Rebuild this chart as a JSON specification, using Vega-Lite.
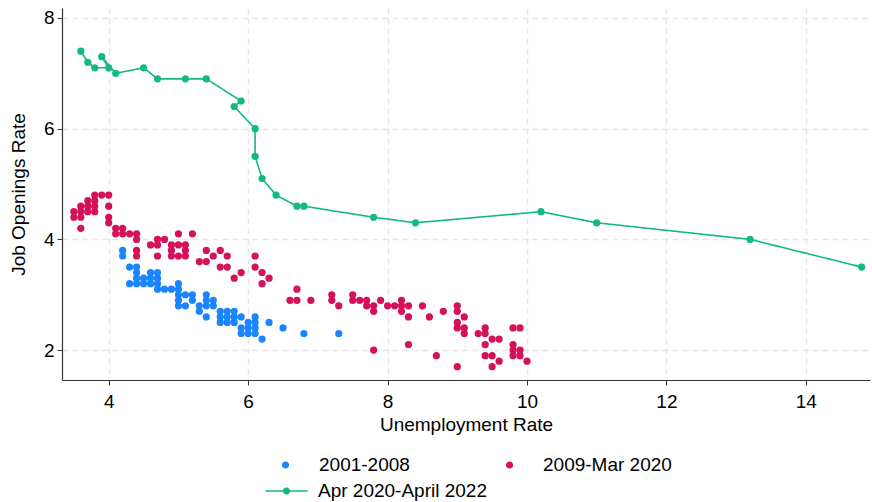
{
  "$schema": "https://vega.github.io/schema/vega-lite/v6.json",
  "width": 808,
  "height": 372,
  "autosize": {"type": "none"},
  "padding": {"left": 62, "top": 8, "right": 2, "bottom": 122},
  "config": {
    "font": "Liberation Sans",
    "view": {"stroke": null},
    "axis": {
      "grid": true,
      "gridDash": [6, 4],
      "gridColor": "#e6e6e6",
      "gridWidth": 1.5,
      "domainColor": "#333333",
      "domainWidth": 1.2,
      "tickColor": "#333333",
      "tickSize": 5,
      "labelFontSize": 19,
      "titleFontSize": 19,
      "titleFontWeight": "normal",
      "labelColor": "#000000",
      "titleColor": "#000000",
      "labelFlush": false
    }
  },
  "datasets": {
    "pts": [
      {"u":4.2,"j":3.8,"s":"2001-2008"},{"u":4.2,"j":3.7,"s":"2001-2008"},{"u":4.3,"j":3.5,"s":"2001-2008"},{"u":4.4,"j":3.5,"s":"2001-2008"},
      {"u":4.4,"j":3.4,"s":"2001-2008"},{"u":4.6,"j":3.4,"s":"2001-2008"},{"u":4.7,"j":3.4,"s":"2001-2008"},
      {"u":4.4,"j":3.3,"s":"2001-2008"},{"u":4.5,"j":3.3,"s":"2001-2008"},{"u":4.6,"j":3.3,"s":"2001-2008"},{"u":4.7,"j":3.3,"s":"2001-2008"},
      {"u":4.3,"j":3.2,"s":"2001-2008"},{"u":4.4,"j":3.2,"s":"2001-2008"},{"u":4.5,"j":3.2,"s":"2001-2008"},{"u":4.6,"j":3.2,"s":"2001-2008"},{"u":4.7,"j":3.2,"s":"2001-2008"},
      {"u":4.7,"j":3.1,"s":"2001-2008"},{"u":4.8,"j":3.1,"s":"2001-2008"},{"u":4.9,"j":3.1,"s":"2001-2008"},{"u":5.0,"j":3.1,"s":"2001-2008"},{"u":5.0,"j":3.2,"s":"2001-2008"},
      {"u":5.0,"j":3.0,"s":"2001-2008"},{"u":5.1,"j":3.0,"s":"2001-2008"},{"u":5.2,"j":3.0,"s":"2001-2008"},{"u":5.0,"j":2.9,"s":"2001-2008"},{"u":5.2,"j":2.9,"s":"2001-2008"},
      {"u":5.0,"j":2.8,"s":"2001-2008"},{"u":5.1,"j":2.8,"s":"2001-2008"},{"u":5.3,"j":2.8,"s":"2001-2008"},{"u":5.3,"j":2.7,"s":"2001-2008"},
      {"u":5.4,"j":3.0,"s":"2001-2008"},{"u":5.4,"j":2.9,"s":"2001-2008"},{"u":5.4,"j":2.8,"s":"2001-2008"},{"u":5.5,"j":2.9,"s":"2001-2008"},{"u":5.5,"j":2.8,"s":"2001-2008"},{"u":5.4,"j":2.6,"s":"2001-2008"},
      {"u":5.6,"j":2.7,"s":"2001-2008"},{"u":5.7,"j":2.7,"s":"2001-2008"},{"u":5.8,"j":2.7,"s":"2001-2008"},{"u":5.6,"j":2.6,"s":"2001-2008"},{"u":5.7,"j":2.6,"s":"2001-2008"},{"u":5.8,"j":2.6,"s":"2001-2008"},{"u":5.9,"j":2.6,"s":"2001-2008"},
      {"u":5.6,"j":2.5,"s":"2001-2008"},{"u":5.7,"j":2.5,"s":"2001-2008"},{"u":5.8,"j":2.5,"s":"2001-2008"},{"u":5.9,"j":2.4,"s":"2001-2008"},{"u":5.9,"j":2.3,"s":"2001-2008"},
      {"u":6.0,"j":2.5,"s":"2001-2008"},{"u":6.0,"j":2.4,"s":"2001-2008"},{"u":6.0,"j":2.3,"s":"2001-2008"},{"u":6.1,"j":2.6,"s":"2001-2008"},{"u":6.1,"j":2.5,"s":"2001-2008"},{"u":6.1,"j":2.4,"s":"2001-2008"},{"u":6.1,"j":2.3,"s":"2001-2008"},
      {"u":6.2,"j":2.2,"s":"2001-2008"},{"u":6.3,"j":2.5,"s":"2001-2008"},{"u":6.5,"j":2.4,"s":"2001-2008"},{"u":6.8,"j":2.3,"s":"2001-2008"},{"u":7.3,"j":2.3,"s":"2001-2008"},

      {"u":3.8,"j":4.8,"s":"2009-Mar 2020"},{"u":3.9,"j":4.8,"s":"2009-Mar 2020"},{"u":4.0,"j":4.8,"s":"2009-Mar 2020"},{"u":3.7,"j":4.7,"s":"2009-Mar 2020"},{"u":3.8,"j":4.7,"s":"2009-Mar 2020"},
      {"u":3.6,"j":4.6,"s":"2009-Mar 2020"},{"u":3.7,"j":4.6,"s":"2009-Mar 2020"},{"u":3.8,"j":4.6,"s":"2009-Mar 2020"},{"u":4.0,"j":4.6,"s":"2009-Mar 2020"},
      {"u":3.5,"j":4.5,"s":"2009-Mar 2020"},{"u":3.6,"j":4.5,"s":"2009-Mar 2020"},{"u":3.7,"j":4.5,"s":"2009-Mar 2020"},{"u":3.8,"j":4.5,"s":"2009-Mar 2020"},
      {"u":3.5,"j":4.4,"s":"2009-Mar 2020"},{"u":3.6,"j":4.4,"s":"2009-Mar 2020"},{"u":4.0,"j":4.4,"s":"2009-Mar 2020"},{"u":4.0,"j":4.3,"s":"2009-Mar 2020"},{"u":3.6,"j":4.2,"s":"2009-Mar 2020"},
      {"u":4.1,"j":4.2,"s":"2009-Mar 2020"},{"u":4.2,"j":4.2,"s":"2009-Mar 2020"},{"u":4.1,"j":4.1,"s":"2009-Mar 2020"},{"u":4.2,"j":4.1,"s":"2009-Mar 2020"},{"u":4.3,"j":4.1,"s":"2009-Mar 2020"},{"u":4.4,"j":4.1,"s":"2009-Mar 2020"},{"u":4.4,"j":4.0,"s":"2009-Mar 2020"},
      {"u":4.4,"j":3.8,"s":"2009-Mar 2020"},{"u":4.4,"j":3.7,"s":"2009-Mar 2020"},{"u":4.6,"j":3.9,"s":"2009-Mar 2020"},{"u":4.7,"j":3.9,"s":"2009-Mar 2020"},{"u":4.7,"j":4.0,"s":"2009-Mar 2020"},{"u":4.8,"j":4.0,"s":"2009-Mar 2020"},{"u":4.7,"j":3.7,"s":"2009-Mar 2020"},
      {"u":4.9,"j":3.9,"s":"2009-Mar 2020"},{"u":5.0,"j":3.9,"s":"2009-Mar 2020"},{"u":5.1,"j":3.9,"s":"2009-Mar 2020"},{"u":4.9,"j":3.8,"s":"2009-Mar 2020"},{"u":5.1,"j":3.8,"s":"2009-Mar 2020"},
      {"u":4.9,"j":3.7,"s":"2009-Mar 2020"},{"u":5.0,"j":3.7,"s":"2009-Mar 2020"},{"u":5.1,"j":3.7,"s":"2009-Mar 2020"},{"u":5.0,"j":4.1,"s":"2009-Mar 2020"},{"u":5.2,"j":4.1,"s":"2009-Mar 2020"},
      {"u":5.4,"j":3.8,"s":"2009-Mar 2020"},{"u":5.6,"j":3.8,"s":"2009-Mar 2020"},{"u":5.5,"j":3.7,"s":"2009-Mar 2020"},{"u":5.7,"j":3.7,"s":"2009-Mar 2020"},{"u":5.3,"j":3.6,"s":"2009-Mar 2020"},{"u":5.4,"j":3.6,"s":"2009-Mar 2020"},
      {"u":5.6,"j":3.5,"s":"2009-Mar 2020"},{"u":5.7,"j":3.5,"s":"2009-Mar 2020"},{"u":5.8,"j":3.3,"s":"2009-Mar 2020"},{"u":5.9,"j":3.4,"s":"2009-Mar 2020"},
      {"u":6.1,"j":3.7,"s":"2009-Mar 2020"},{"u":6.1,"j":3.5,"s":"2009-Mar 2020"},{"u":6.2,"j":3.4,"s":"2009-Mar 2020"},{"u":6.3,"j":3.3,"s":"2009-Mar 2020"},{"u":6.2,"j":3.2,"s":"2009-Mar 2020"},
      {"u":6.6,"j":2.9,"s":"2009-Mar 2020"},{"u":6.7,"j":2.9,"s":"2009-Mar 2020"},{"u":6.7,"j":3.1,"s":"2009-Mar 2020"},{"u":6.9,"j":2.9,"s":"2009-Mar 2020"},
      {"u":7.2,"j":3.0,"s":"2009-Mar 2020"},{"u":7.2,"j":2.9,"s":"2009-Mar 2020"},{"u":7.3,"j":2.8,"s":"2009-Mar 2020"},
      {"u":7.5,"j":3.0,"s":"2009-Mar 2020"},{"u":7.5,"j":2.9,"s":"2009-Mar 2020"},{"u":7.6,"j":2.9,"s":"2009-Mar 2020"},{"u":7.7,"j":2.9,"s":"2009-Mar 2020"},{"u":7.7,"j":2.8,"s":"2009-Mar 2020"},
      {"u":7.8,"j":2.8,"s":"2009-Mar 2020"},{"u":7.8,"j":2.7,"s":"2009-Mar 2020"},{"u":7.9,"j":2.9,"s":"2009-Mar 2020"},
      {"u":8.0,"j":2.8,"s":"2009-Mar 2020"},{"u":8.1,"j":2.8,"s":"2009-Mar 2020"},{"u":8.2,"j":2.9,"s":"2009-Mar 2020"},{"u":8.2,"j":2.8,"s":"2009-Mar 2020"},{"u":8.2,"j":2.7,"s":"2009-Mar 2020"},
      {"u":8.3,"j":2.8,"s":"2009-Mar 2020"},{"u":8.3,"j":2.6,"s":"2009-Mar 2020"},{"u":8.5,"j":2.8,"s":"2009-Mar 2020"},{"u":8.6,"j":2.6,"s":"2009-Mar 2020"},{"u":8.8,"j":2.7,"s":"2009-Mar 2020"},
      {"u":9.0,"j":2.8,"s":"2009-Mar 2020"},{"u":9.0,"j":2.7,"s":"2009-Mar 2020"},{"u":9.1,"j":2.6,"s":"2009-Mar 2020"},{"u":9.0,"j":2.5,"s":"2009-Mar 2020"},{"u":9.0,"j":2.4,"s":"2009-Mar 2020"},
      {"u":9.1,"j":2.4,"s":"2009-Mar 2020"},{"u":9.1,"j":2.3,"s":"2009-Mar 2020"},{"u":9.3,"j":2.3,"s":"2009-Mar 2020"},{"u":9.4,"j":2.4,"s":"2009-Mar 2020"},{"u":9.4,"j":2.3,"s":"2009-Mar 2020"},
      {"u":9.5,"j":2.2,"s":"2009-Mar 2020"},{"u":9.6,"j":2.2,"s":"2009-Mar 2020"},{"u":9.4,"j":2.1,"s":"2009-Mar 2020"},{"u":9.4,"j":1.9,"s":"2009-Mar 2020"},{"u":9.5,"j":1.9,"s":"2009-Mar 2020"},
      {"u":9.6,"j":1.8,"s":"2009-Mar 2020"},{"u":9.5,"j":1.7,"s":"2009-Mar 2020"},{"u":9.8,"j":2.4,"s":"2009-Mar 2020"},{"u":9.9,"j":2.4,"s":"2009-Mar 2020"},{"u":9.8,"j":2.1,"s":"2009-Mar 2020"},
      {"u":9.8,"j":2.0,"s":"2009-Mar 2020"},{"u":9.9,"j":2.0,"s":"2009-Mar 2020"},{"u":9.8,"j":1.9,"s":"2009-Mar 2020"},{"u":9.9,"j":1.9,"s":"2009-Mar 2020"},{"u":10.0,"j":1.8,"s":"2009-Mar 2020"},
      {"u":7.8,"j":2.0,"s":"2009-Mar 2020"},{"u":8.3,"j":2.1,"s":"2009-Mar 2020"},{"u":8.7,"j":1.9,"s":"2009-Mar 2020"},{"u":9.0,"j":1.7,"s":"2009-Mar 2020"},

      {"u":14.8,"j":3.5,"s":"Apr 2020-April 2022","o":1},{"u":13.2,"j":4.0,"s":"Apr 2020-April 2022","o":2},{"u":11.0,"j":4.3,"s":"Apr 2020-April 2022","o":3},
      {"u":10.2,"j":4.5,"s":"Apr 2020-April 2022","o":4},{"u":8.4,"j":4.3,"s":"Apr 2020-April 2022","o":5},{"u":7.8,"j":4.4,"s":"Apr 2020-April 2022","o":6},
      {"u":6.8,"j":4.6,"s":"Apr 2020-April 2022","o":7},{"u":6.7,"j":4.6,"s":"Apr 2020-April 2022","o":8},{"u":6.4,"j":4.8,"s":"Apr 2020-April 2022","o":9},
      {"u":6.2,"j":5.1,"s":"Apr 2020-April 2022","o":10},{"u":6.1,"j":5.5,"s":"Apr 2020-April 2022","o":11},{"u":6.1,"j":6.0,"s":"Apr 2020-April 2022","o":12},
      {"u":5.8,"j":6.4,"s":"Apr 2020-April 2022","o":13},{"u":5.9,"j":6.5,"s":"Apr 2020-April 2022","o":14},{"u":5.4,"j":6.9,"s":"Apr 2020-April 2022","o":15},
      {"u":5.1,"j":6.9,"s":"Apr 2020-April 2022","o":16},{"u":4.7,"j":6.9,"s":"Apr 2020-April 2022","o":17},{"u":4.5,"j":7.1,"s":"Apr 2020-April 2022","o":18},
      {"u":4.1,"j":7.0,"s":"Apr 2020-April 2022","o":19},{"u":3.9,"j":7.3,"s":"Apr 2020-April 2022","o":20},{"u":4.0,"j":7.1,"s":"Apr 2020-April 2022","o":21},
      {"u":3.8,"j":7.1,"s":"Apr 2020-April 2022","o":22},{"u":3.7,"j":7.2,"s":"Apr 2020-April 2022","o":23},{"u":3.6,"j":7.4,"s":"Apr 2020-April 2022","o":24}
    ]
  },
  "data": {"name": "pts"},
  "encoding": {
    "x": {
      "field": "u", "type": "quantitative",
      "scale": {"domain": [3.33, 14.92], "nice": false, "zero": false},
      "axis": {"title": "Unemployment Rate", "values": [4, 6, 8, 10, 12, 14], "labelPadding": 7, "titlePadding": 4}
    },
    "y": {
      "field": "j", "type": "quantitative",
      "scale": {"domain": [1.46, 8.18], "nice": false, "zero": false},
      "axis": {"title": "Job Openings Rate", "values": [2, 4, 6, 8], "labelPadding": 3, "titlePadding": 15}
    }
  },
  "layer": [
    {
      "transform": [{"filter": "datum.s === 'Apr 2020-April 2022'"}],
      "mark": {"type": "line", "color": "#12b981", "strokeWidth": 1.6},
      "encoding": {
        "order": {"field": "o", "type": "quantitative"},
        "strokeDash": {
          "field": "s", "type": "nominal",
          "scale": {"domain": ["Apr 2020-April 2022"], "range": [[1, 0]]},
          "legend": {
            "title": null,
            "orient": "none",
            "legendX": 202,
            "legendY": 473,
            "clipHeight": 20,
            "labelFontSize": 19,
            "labelColor": "#000000",
            "labelLimit": 300,
            "labelOffset": 9,
            "symbolSize": 1800,
            "symbolStrokeWidth": 1.6,
            "symbolStrokeColor": "#12b981",
            "symbolFillColor": "#12b981",
            "symbolType": "M-1,0L1,0M-0.13,0A0.13,0.13,0,1,1,0.13,0A0.13,0.13,0,1,1,-0.13,0Z"
          }
        }
      }
    },
    {
      "transform": [{"filter": "datum.s === 'Apr 2020-April 2022'"}],
      "mark": {"type": "point", "filled": true, "size": 52, "opacity": 1, "color": "#12b981"}
    },
    {
      "transform": [{"filter": "datum.s !== 'Apr 2020-April 2022'"}],
      "mark": {"type": "point", "filled": true, "size": 52, "opacity": 1},
      "encoding": {
        "color": {
          "field": "s", "type": "nominal",
          "scale": {"domain": ["2001-2008", "2009-Mar 2020"], "range": ["#1a85ff", "#d41159"]},
          "legend": {
            "title": null,
            "orient": "none",
            "legendX": 202,
            "legendY": 447,
            "direction": "horizontal",
            "columns": 2,
            "columnPadding": 78,
            "clipHeight": 20,
            "labelFontSize": 19,
            "labelColor": "#000000",
            "labelLimit": 300,
            "labelOffset": 12,
            "symbolSize": 1800,
            "symbolStrokeWidth": 0,
            "symbolType": "M-0.17,0A0.17,0.17,0,1,1,0.17,0A0.17,0.17,0,1,1,-0.17,0Z"
          }
        }
      }
    }
  ]
}
